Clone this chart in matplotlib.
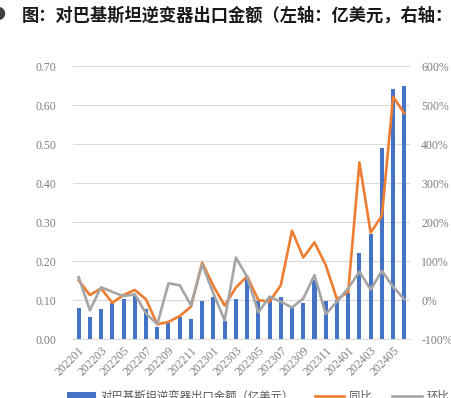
# STEP 1: Import Libraries
import matplotlib.pyplot as plt
import numpy as np
from matplotlib.lines import Line2D
from matplotlib.patches import Patch


# STEP 2: Data
MONTHS = [
    "202201", "202202", "202203", "202204", "202205", "202206",
    "202207", "202208", "202209", "202210", "202211", "202212",
    "202301", "202302", "202303", "202304", "202305", "202306",
    "202307", "202308", "202309", "202310", "202311", "202312",
    "202401", "202402", "202403", "202404", "202405", "202406",
]

# export value, 100 million USD (left axis)
EXPORT_VALUE = [
    0.079, 0.057, 0.077, 0.093, 0.103, 0.111,
    0.077, 0.032, 0.041, 0.057, 0.051, 0.098,
    0.109, 0.046, 0.103, 0.155, 0.098, 0.111,
    0.107, 0.080, 0.092, 0.151, 0.097, 0.100,
    0.117, 0.222, 0.270, 0.489, 0.641, 0.649,
]

# year-on-year change, % (right axis)
YOY = [
    51, 13, 30, -7, 13, 26,
    2, -62, -56, -41, -17, 96,
    36, -14, 32, 61, 0, -4,
    38, 178, 109, 148, 90, 2,
    21, 353, 173, 216, 521, 479,
]

# month-on-month change, % (right axis)
MOM = [
    59, -26, 33, 21, 10, 15,
    -34, -62, 43, 38, -13, 92,
    17, -52, 109, 60, -32, 9,
    -4, -19, 4, 64, -36, -4,
    30, 73, 27, 75, 34, 2,
]

TITLE = "图：对巴基斯坦逆变器出口金额（左轴：亿美元，右轴："
LEGEND_LABELS = ["对巴基斯坦逆变器出口金额（亿美元）", "同比", "环比"]

# STEP 3: Colors and fonts
BAR_COLOR = "#4472C4"
YOY_COLOR = "#ED7D31"
MOM_COLOR = "#A5A5A5"
GRID_COLOR = "#D9D9D9"
TICK_COLOR = "#7F7F7F"
CJK = ["Noto Sans CJK SC", "DejaVu Sans"]

# tick numbers are in a Times-like serif
plt.rcParams["font.family"] = ["Liberation Serif"]


# STEP 4: Build the figure
def build_figure(output_path):
    fig = plt.figure(figsize=(4.52, 3.98), dpi=100)
    ax = fig.add_axes([0.1615, 0.148, 0.7455, 0.686])
    ax2 = ax.twinx()

    x = np.arange(len(MONTHS))

    # bars on left axis
    ax.bar(x, EXPORT_VALUE, width=0.36, color=BAR_COLOR, zorder=2)
    ax.set_ylim(0, 0.70)
    ax.set_yticks(np.arange(0, 0.71, 0.10))
    ax.set_yticklabels(["%.2f" % v for v in np.arange(0, 0.71, 0.10)])
    ax.set_xlim(-0.5, len(MONTHS) - 0.5)
    ax.grid(axis="y", color=GRID_COLOR, linewidth=0.8, zorder=0)
    ax.set_axisbelow(True)

    # lines on right axis
    ax2.plot(x, YOY, color=YOY_COLOR, linewidth=1.9, zorder=3)
    ax2.plot(x, MOM, color=MOM_COLOR, linewidth=1.9, zorder=4)
    ax2.set_ylim(-100, 600)
    ax2.set_yticks(np.arange(-100, 601, 100))
    ax2.set_yticklabels(["%d%%" % v for v in np.arange(-100, 601, 100)])

    # x tick labels: every other month, rotated
    ax.set_xticks(x[::2])
    ax.set_xticklabels(MONTHS[::2], rotation=45, ha="right",
                       rotation_mode="anchor")

    for a in (ax, ax2):
        for spine in a.spines.values():
            spine.set_visible(False)
        a.tick_params(length=0, labelsize=8.5, labelcolor=TICK_COLOR)
    ax.spines["bottom"].set_visible(True)
    ax.spines["bottom"].set_color(GRID_COLOR)
    ax.tick_params(axis="y", pad=12)
    ax.tick_params(axis="x", pad=4)
    ax2.tick_params(axis="y", pad=8)

    # title (cut off on the right like the original)
    fig.text(0.049, 0.960, TITLE, fontsize=12.4, fontweight="bold",
             family=CJK, color="#1a1a1a", va="center", ha="left")
    fig.text(0.011, 0.962, "●", fontsize=10, color="#404040",
             va="center", ha="right", family=CJK)

    # legend at the bottom (partly cut off)
    handles = [
        Patch(facecolor=BAR_COLOR, edgecolor="none"),
        Line2D([0], [0], color=YOY_COLOR, linewidth=1.9),
        Line2D([0], [0], color=MOM_COLOR, linewidth=1.9),
    ]
    leg = fig.legend(handles, LEGEND_LABELS, loc="center left",
                     bbox_to_anchor=(0.135, 0.004), ncol=3, frameon=False,
                     prop={"family": CJK, "size": 8.2},
                     handlelength=2.6, handletextpad=0.4, columnspacing=1.8,
                     borderpad=0)
    for t in leg.get_texts():
        t.set_color("#595959")

    fig.savefig(output_path, dpi=100)


if __name__ == "__main__":
    build_figure("out.png")
